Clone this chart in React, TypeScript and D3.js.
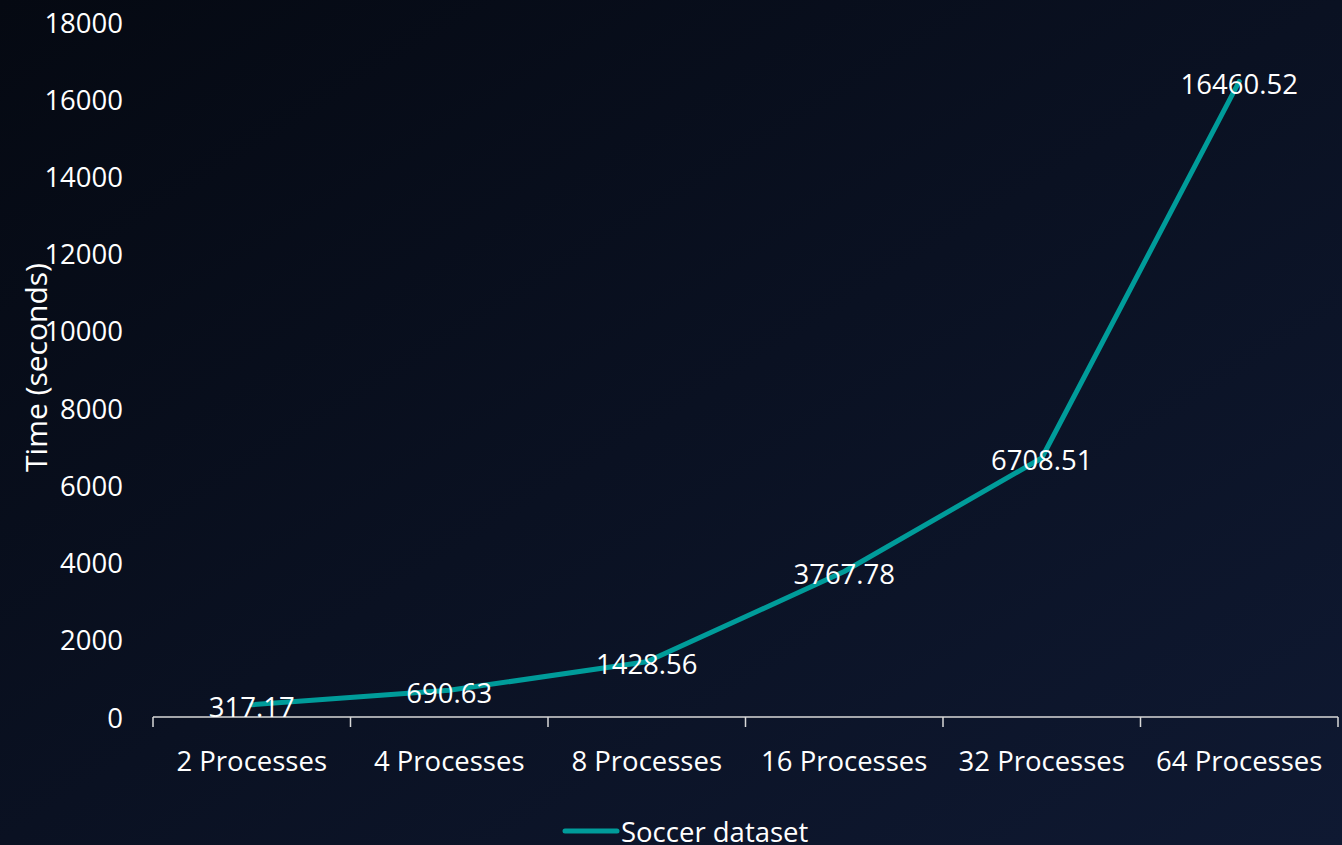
import React from "react";
import * as d3 from "d3";

const categories = ["2 Processes", "4 Processes", "8 Processes", "16 Processes", "32 Processes", "64 Processes"];
const values = [317.17, 690.63, 1428.56, 3767.78, 6708.51, 16460.52];
const yTicks = [0, 2000, 4000, 6000, 8000, 10000, 12000, 14000, 16000, 18000];
const seriesName = "Soccer dataset";
const yTitle = "Time (seconds)";

const W = 1342;
const H = 845;
const FONT = "'Open Sans', 'Liberation Sans', sans-serif";
const FS = 27.5;

export default function App() {
  const x = d3.scaleBand<string>().domain(categories).range([153, 1338]);
  const y = d3.scaleLinear().domain([0, 18000]).range([717, 22]);
  const line = d3
    .line<number>()
    .x((_, i) => (x(categories[i]) as number) + x.bandwidth() / 2)
    .y((d) => y(d));
  const tickXs = [...categories.map((c) => x(c) as number), 1338];
  return (
    <svg width={W} height={H} style={{ position: "absolute", left: 0, top: 0 }}>
      <defs>
        <linearGradient id="bg" x1="0" y1="0" x2="1" y2="1">
          <stop offset="0" stopColor="#050912" />
          <stop offset="1" stopColor="#0f1932" />
        </linearGradient>
      </defs>
      <rect x={0} y={0} width={W} height={H} fill="url(#bg)" />
      {yTicks.map((t) => (
        <text key={t} x={123} y={y(t)} textAnchor="end" dominantBaseline="central" fill="#ffffff" fontFamily={FONT} fontSize={FS}>
          {t}
        </text>
      ))}
      <text
        transform={`translate(35,${y(9000) - 2}) rotate(-90)`}
        textAnchor="middle"
        dominantBaseline="central"
        fill="#ffffff"
        fontFamily={FONT}
        fontSize={30}
      >
        {yTitle}
      </text>
      <line x1={153} x2={1338} y1={y(0)} y2={y(0)} stroke="#d9d9d9" strokeWidth={1.5} />
      {tickXs.map((tx, i) => (
        <line key={i} x1={tx} x2={tx} y1={y(0)} y2={y(0) + 10} stroke="#d9d9d9" strokeWidth={1.5} />
      ))}
      {categories.map((c) => (
        <text key={c} x={(x(c) as number) + x.bandwidth() / 2} y={760} textAnchor="middle" dominantBaseline="central" fill="#ffffff" fontFamily={FONT} fontSize={FS}>
          {c}
        </text>
      ))}
      <path d={line(values) || ""} fill="none" stroke="#009c9a" strokeWidth={5} strokeLinejoin="round" strokeLinecap="round" />
      {values.map((v, i) => (
        <text key={i} x={(x(categories[i]) as number) + x.bandwidth() / 2} y={y(v) + 2} textAnchor="middle" dominantBaseline="central" fill="#ffffff" fontFamily={FONT} fontSize={FS}>
          {v.toFixed(2)}
        </text>
      ))}
      <line x1={565} x2={617} y1={831} y2={831} stroke="#009c9a" strokeWidth={5} strokeLinecap="round" />
      <text x={621} y={831} dominantBaseline="central" fill="#ffffff" fontFamily={FONT} fontSize={FS}>
        {seriesName}
      </text>
    </svg>
  );
}
